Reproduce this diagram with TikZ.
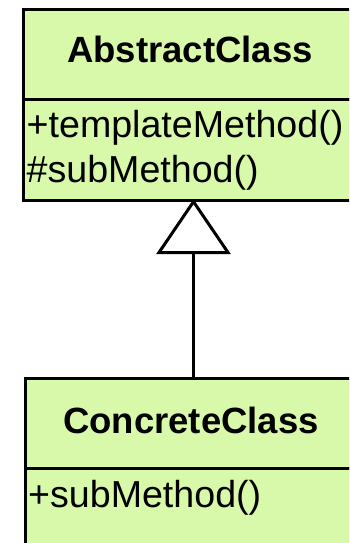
\documentclass[tikz,border=0pt]{standalone}
\usepackage{fontspec}
\setmainfont{Liberation Sans}
\usetikzlibrary{arrows.meta}
\definecolor{umlfill}{RGB}{216,248,170}
\tikzset{
  compart/.style={draw=black, line width=3pt, fill=umlfill, rectangle, inner sep=0pt, anchor=north west},
  classtitle/.style={inner sep=0pt, anchor=base, font=\fontsize{36.5}{44}\selectfont\bfseries},
  methodtext/.style={inner sep=0pt, anchor=base west, font=\fontsize{37.6}{45}\selectfont},
  inherit/.style={draw=black, line width=3pt, -{Triangle[open, length=55pt, width=74pt]}}
}
\begin{document}
\begin{tikzpicture}[x=1pt, y=-1pt]
\useasboundingbox (0,0) rectangle (349,543);
\fill[white] (0,0) rectangle (349,543);
\clip (0,0) rectangle (349,543);
% AbstractClass
\node[compart, minimum width=340pt, minimum height=89.5pt] (abst) at (22,8.5) {};
\node[compart, minimum width=340pt, minimum height=101pt] (absm) at (22,98) {};
\node[classtitle] (abstname) at (190,63) {AbstractClass};
\node[methodtext] (absm1) at (26.5,137) {+templateMethod()};
\node[methodtext] (absm2) at (26.5,182) {\#subMethod()};
% ConcreteClass
\node[compart, minimum width=336pt, minimum height=90pt] (cont) at (24,377) {};
\node[compart, minimum width=336pt, minimum height=100pt] (conm) at (24,467) {};
\node[classtitle] (conname) at (191,433) {ConcreteClass};
\node[methodtext] (conm1) at (28,507) {+subMethod()};
% generalization
\draw[inherit] (cont.north) -- ([yshift=3pt]absm.south);
\end{tikzpicture}
\end{document}
